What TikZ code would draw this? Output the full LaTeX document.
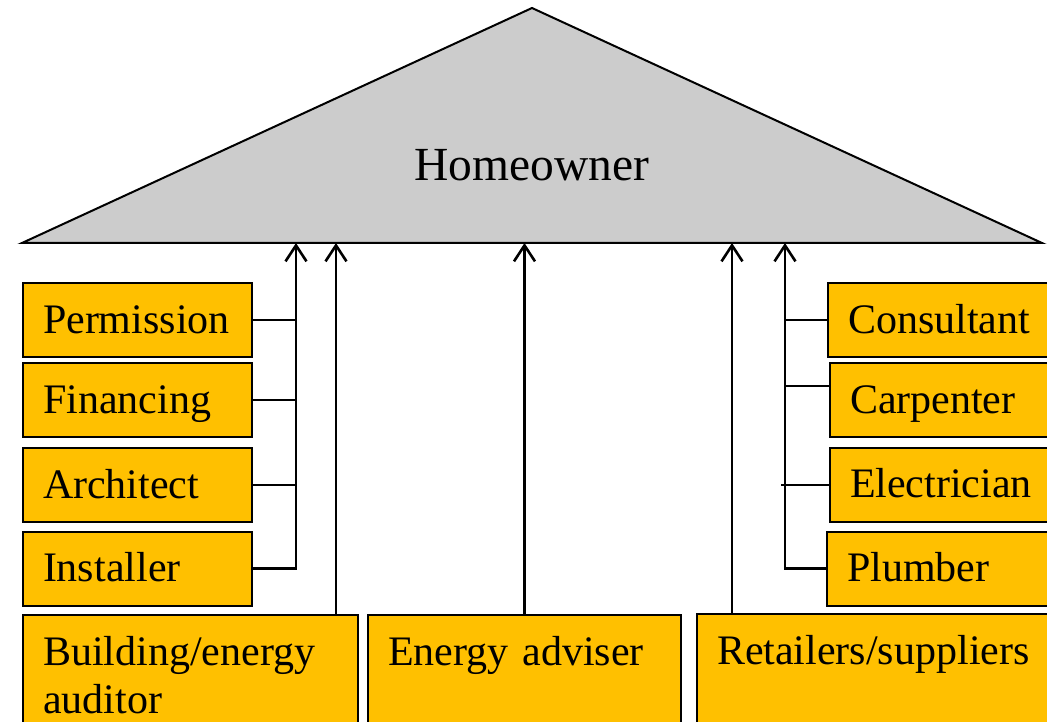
\documentclass[tikz,border=0pt]{standalone}
\usepackage{fontspec}
\setmainfont{Liberation Serif}
\usepackage{xcolor}
\usepackage{tikz}
\usetikzlibrary{arrows.meta}
\definecolor{boxamber}{HTML}{FFC000}
\definecolor{roofgray}{HTML}{CCCCCC}

\begin{document}
\begin{tikzpicture}[x=1pt, y=-1pt,
    actor/.style={draw=black, fill=boxamber, line width=2pt, align=left,
      inner xsep=20pt, inner ysep=0pt, text height=30pt, text depth=4pt,
      minimum height=74pt, font=\fontsize{42}{48}\selectfont},
    lower/.style={actor, text height=50pt, text depth=80pt, anchor=north west},
    link/.style={line width=2pt},
    flow/.style={line width=2.6pt, -{Straight Barb[length=16pt,width=21pt]}}]
    \useasboundingbox (0,0) rectangle (1047,722);
    % roof
    \draw[line width=2pt, fill=roofgray] (22,243) -- (532,8) -- (1042,243) -- cycle;
    \node[font=\fontsize{47.5}{52}\selectfont] (owner) at (532,165) {Homeowner};
    \coordinate (lt) at (296,243);
    \coordinate (rt) at (785,243);
    % left column
    \node[actor, text width=189pt, anchor=west] (perm) at (22,320) {Permission};
    \node[actor, text width=189pt, anchor=west] (fin) at (22,400) {Financing};
    \node[actor, text width=189pt, anchor=west] (arch) at (22,485) {Architect};
    \node[actor, text width=189pt, anchor=west] (inst) at (22,568.5) {Installer};
    % right column
    \node[actor, text width=210pt, anchor=west] (cons) at (827,320) {Consultant};
    \node[actor, text width=210pt, anchor=west] (carp) at (829,400) {Carpenter};
    \node[actor, text width=210pt, anchor=west] (elec) at (829,484.5) {Electrician};
    \node[actor, text width=210pt, anchor=west] (plum) at (826,568.5) {Plumber};
    % bottom row
    \node[lower, text width=295pt] (audit) at (22,614) {Building/energy\\auditor};
    \node[lower, text width=273pt] (adv) at (367,614) {Energy adviser};
    \node[lower, text width=330pt] (retail) at (696,613) {Retailers/suppliers};
    % connectors
    \draw[flow] (inst.east) -| (lt);
    \foreach \n in {perm,fin,arch}
      \draw[link] (\n.east) -- (\n.east -| lt);
    \draw[flow] (plum.west) -| (rt);
    \draw[link] (cons.west) -- (cons.west -| rt);
    \draw[link] ([yshift=14pt]carp.west) -- ([yshift=14pt]carp.west -| rt);
    \draw[link] (elec.west) -- ([xshift=-4pt]elec.west -| rt);
    \draw[flow] ([xshift=-23pt]audit.north east) -- ([xshift=-23pt]audit.north east |- lt);
    \draw[flow] (adv.north) -- (adv.north |- lt);
    \draw[flow] ([xshift=36pt]retail.north west) -- ([xshift=36pt]retail.north west |- lt);
\end{tikzpicture}
\end{document}
